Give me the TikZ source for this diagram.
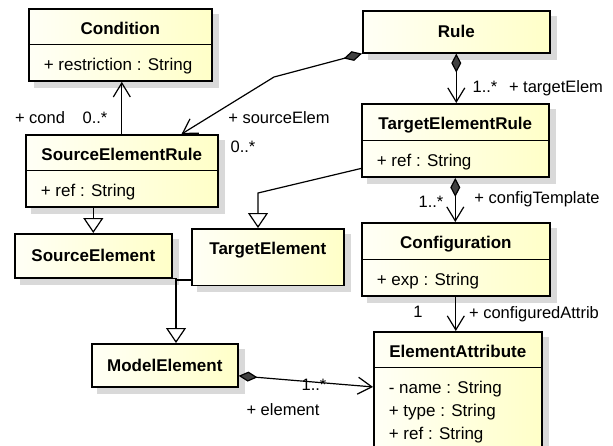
\documentclass[tikz,border=0pt]{standalone}
\usepackage{fontspec}
\setmainfont{Liberation Sans}
\usetikzlibrary{arrows.meta,shapes.multipart,backgrounds}
\definecolor{umlfill}{HTML}{FFFFC8}
\definecolor{umlpale}{HTML}{FFFFF6}
\definecolor{umlshadow}{HTML}{D9D9D9}
\definecolor{umldiamond}{HTML}{404040}
\newcommand{\umlstrut}{\rule[-2.5pt]{0pt}{21pt}}
\begin{document}
\begin{tikzpicture}[x=1pt,y=-1pt,
	cls/.style={draw,line width=1.6pt,left color=umlpale,right color=umlfill,
		font=\fontsize{17}{21}\selectfont,inner xsep=15pt,inner ysep=6.5pt,anchor=north west},
	twopart/.style={cls,rectangle split,rectangle split parts=2,
		rectangle split part align={center,left},align=left},
	lbl/.style={font=\fontsize{16.5}{21}\selectfont,inner sep=0pt,anchor=base},
	assoc/.style={draw,line width=1.2pt,-{Straight Barb[length=14pt,width=17pt]}},
	comp/.style={assoc,{Diamond[length=19pt,width=10pt,fill=umldiamond]}-{Straight Barb[length=14pt,width=17pt]}},
	gen/.style={draw,line width=1.2pt,-{Triangle[length=15pt,width=20pt,fill=white]}}]
		\useasboundingbox (0,0) rectangle (613,445);
		% classes
		\node[twopart,minimum width=183pt] (cond) at (28,8) {\umlstrut\textbf{Condition}\nodepart{two}\umlstrut+ restriction : String};
		\node[twopart,minimum width=192pt] (ser) at (25,134) {\umlstrut\textbf{SourceElementRule}\nodepart{two}\umlstrut+ ref : String};
		\node[cls,minimum width=187pt,minimum height=42pt] (rule) at (362,10) {\textbf{Rule}};
		\node[twopart,minimum width=187pt] (ter) at (361,103) {\umlstrut\textbf{TargetElementRule}\nodepart{two}\umlstrut+ ref : String};
		\node[twopart,minimum width=188pt] (conf) at (361,222) {\umlstrut\textbf{Configuration}\nodepart{two}\umlstrut+ exp : String};
		\node[twopart,minimum width=168pt] (ea) at (373,331) {\umlstrut\textbf{ElementAttribute}\nodepart{two}\umlstrut- name : String\\\umlstrut+ type : String\\\umlstrut+ ref : String};
		\node[cls,minimum width=157pt,minimum height=44pt] (se) at (14,233) {\textbf{SourceElement}};
		\node[twopart,rectangle split draw splits=false,minimum width=152pt,minimum height=53pt] (te) at (191,228) {\umlstrut\textbf{TargetElement}\nodepart{two}};
		\node[cls,minimum width=146pt,minimum height=43pt] (me) at (91,343) {\textbf{ModelElement}};
		% shadows
		\begin{scope}[on background layer]
			\foreach \cl in {cond,ser,rule,ter,conf,ea,se,te,me}
				\fill[umlshadow] ([shift={(6pt,-6pt)}]\cl.south west) rectangle ([shift={(6pt,-6pt)}]\cl.north east);
		\end{scope}
		% bends
		\coordinate (serbend) at (274,77);
		\coordinate (tebend) at (258,193);
		\coordinate (gjoin) at (176,280);
		% associations
		\draw[assoc] (ser.north) -- (ser.north |- cond.south);
		\draw[comp] (rule.south west) -- (serbend) -- ([xshift=-37pt]ser.north east);
		\draw[comp] (rule.south) -- (rule.south |- ter.north);
		\draw[comp] (ter.south) -- (ter.south |- conf.north);
		\draw[assoc] (conf.south) -- (conf.south |- ea.north);
		\draw[comp] ([yshift=-10.5pt]me.east) -- ([yshift=4pt]ea.west);
		% generalisations
		\draw[gen] (ser.south -| se.north) -- (se.north);
		\draw[gen] ([yshift=-28pt]ter.west) -- (tebend) -- (tebend |- te.north);
		\draw[line width=1.2pt] (se.south east) -| (gjoin);
		\draw[gen] (gjoin -| te.west) -- (gjoin) -- (gjoin |- me.north);
		% role names and multiplicities
		\node[lbl] (mcond) at (40,123) {+ cond};
		\node[lbl] (ncond) at (95,123) {0..*};
		\node[lbl] (msrc) at (279,123) {+ sourceElem};
		\node[lbl] (nsrc) at (243,152) {0..*};
		\node[lbl] (ntgt) at (485,92) {1..*};
		\node[lbl] (mtgt) at (556,92) {+ targetElem};
		\node[lbl] (ncfg) at (431,207) {1..*};
		\node[lbl] (mcfg) at (537,203) {+ configTemplate};
		\node[lbl] (nattr) at (418,317) {1};
		\node[lbl] (mattr) at (534,318) {+ configuredAttrib};
		\node[lbl] (nelem) at (314,390) {1..*};
		\node[lbl] (melem) at (283,415) {+ element};
	\end{tikzpicture}
\end{document}
